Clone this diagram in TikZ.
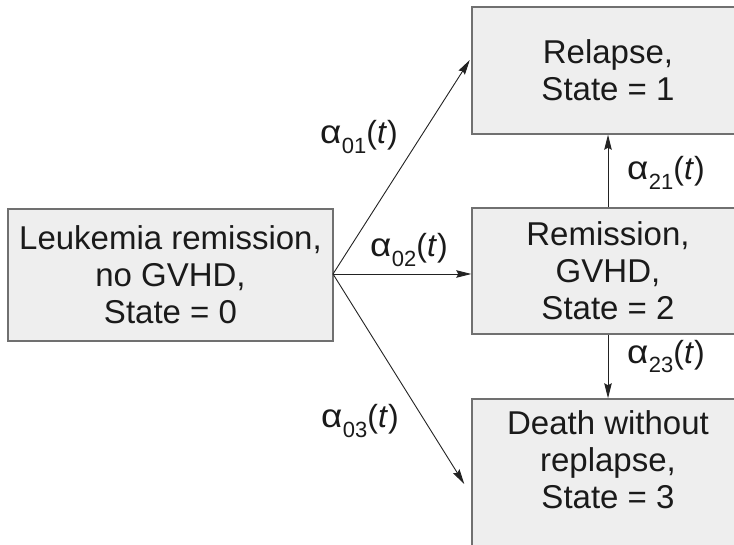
\documentclass[tikz,border=0pt]{standalone}
\usepackage{fontspec}
\setmainfont{Liberation Sans}
\usetikzlibrary{arrows.meta}
\definecolor{boxfill}{HTML}{EEEEEE}
\definecolor{boxline}{HTML}{707070}
\definecolor{arrowcol}{HTML}{222222}
\definecolor{textcol}{HTML}{1A1A1A}
\newcommand{\ratesym}[1]{\scalebox{1.15}[1.03]{α}\kern0.5pt\raisebox{-0.3em}{\fontsize{22}{22}\selectfont #1}(\textit{t})}
\begin{document}
\begin{tikzpicture}[x=1pt,y=-1pt,
  statebox/.style={draw=boxline, line width=1.5pt, fill=boxfill, align=center,
    text=textcol, font=\fontsize{33}{37}\selectfont, inner sep=0pt},
  statetext/.style={align=center, text=textcol, font=\fontsize{33}{37}\selectfont, inner sep=0pt},
  trans/.style={draw=arrowcol, line width=0.9pt, -{Stealth[length=15pt,width=7.5pt,inset=2pt]}},
  ratelabel/.style={text=textcol, font=\fontsize{32}{37}\selectfont, inner sep=0pt, anchor=base west}]
\useasboundingbox (0,0) rectangle (734,545);
\clip (0,0) rectangle (734,545);
\node[statebox, minimum width=325pt, minimum height=132pt] (s0) at (170.5,275) {Leukemia remission,\\no GVHD,\\State = 0};
\node[statebox, minimum width=272pt, minimum height=127pt] (s1) at (608,70.5) {Relapse,\\State = 1};
\node[statebox, minimum width=272pt, minimum height=126pt] (s2) at (608,271) {Remission,\\GVHD,\\State = 2};
\node[statebox, minimum width=272pt, minimum height=170pt] (s3) at (608,484) {};
\node[statetext] (s3text) at (608,460) {Death without\\replapse,\\State = 3};
\coordinate (src) at (333,274);
\coordinate (t1) at ([xshift=-1.5pt,yshift=10.5pt]s1.west);
\coordinate (t3) at ([xshift=-7pt]s3.west);
\draw[trans] (src) -- (t1);
\draw[trans] (src) -- (src -| s2.west);
\draw[trans] (src) -- (t3);
\draw[trans] (s2.north) -- (s1.south);
\draw[trans] (s2.south) -- (s3.north);
\node[ratelabel] (l01) at (320,144) {\ratesym{01}};
\node[ratelabel] (l02) at (370,257) {\ratesym{02}};
\node[ratelabel] (l03) at (321,428) {\ratesym{03}};
\node[ratelabel] (l21) at (627,180) {\ratesym{21}};
\node[ratelabel] (l23) at (627,363) {\ratesym{23}};
\end{tikzpicture}
\end{document}
